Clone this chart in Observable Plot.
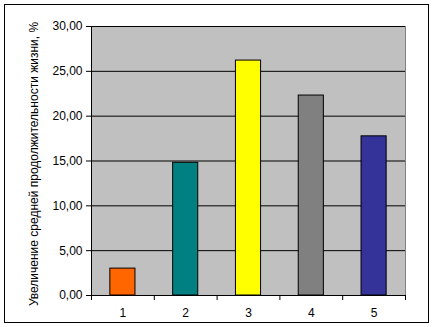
<!DOCTYPE html>
<html>
<head>
<meta charset="utf-8">
<script src="https://cdn.jsdelivr.net/npm/d3@7"></script>
<script src="https://cdn.jsdelivr.net/npm/@observablehq/plot@0.6"></script>
<style>
  html, body { margin: 0; padding: 0; background: #fff; }
  #wrap { position: relative; width: 434px; height: 327px; }
  #chart { position: absolute; left: 0; top: 0; }
  #border { position: absolute; left: 4px; top: 4px; width: 423px; height: 317px; border: 1px solid #000; pointer-events: none; }
</style>
</head>
<body>
<div id="wrap"><div id="chart"></div><div id="border"></div></div>
<script>
const categories = [1, 2, 3, 4, 5];
const values = [3.0, 14.8, 26.2, 22.3, 17.75];
const colors = ["#FF6600", "#008080", "#FFFF00", "#808080", "#333399"];
const yTicks = [0, 5, 10, 15, 20, 25, 30];
const yTitle = "Увеличение средней продолжительности жизни, %";

const data = categories.map((c, i) => ({cat: c, value: values[i], color: colors[i]}));
const halfBar = 0.2;
const boundaries = [0.5, ...categories.map(c => c + 0.5)];
const font = "'Liberation Sans', Arial, sans-serif";

const chart = Plot.plot({
  width: 434,
  height: 327,
  marginLeft: 91,
  marginRight: 29,
  marginTop: 26,
  marginBottom: 32,
  style: {fontFamily: font, fontSize: "12px", color: "#000", background: "transparent"},
  x: {type: "linear", domain: [0.5, 5.5]},
  y: {domain: [0, 30]},
  marks: [
    Plot.frame({fill: "#C0C0C0", stroke: "#808080"}),
    Plot.ruleY(yTicks.filter(d => d > 0), {stroke: "#000", strokeWidth: 1}),
    Plot.rectY(data, {x1: d => d.cat - halfBar, x2: d => d.cat + halfBar, y: "value", fill: "color", stroke: "#000", strokeWidth: 1}),
    Plot.ruleX([0.5], {stroke: "#000"}),
    Plot.ruleY([0], {stroke: "#000"}),
    Plot.axisY({ticks: yTicks, tickSize: 5, tickPadding: 4, tickFormat: d => d.toFixed(2).replace(".", ","), label: null, fontSize: 12}),
    Plot.axisX({ticks: boundaries, tickSize: 5, tickFormat: () => "", label: null}),
    Plot.axisX({ticks: categories, tickSize: 0, tickPadding: 13, tickFormat: d => String(d), label: null, fontSize: 12}),
    Plot.text([yTitle], {frameAnchor: "left", textAnchor: "middle", rotate: -90, dx: -57, dy: 3, fontSize: 12, fill: "#000"})
  ]
});
document.getElementById("chart").appendChild(chart);
</script>
</body>
</html>
